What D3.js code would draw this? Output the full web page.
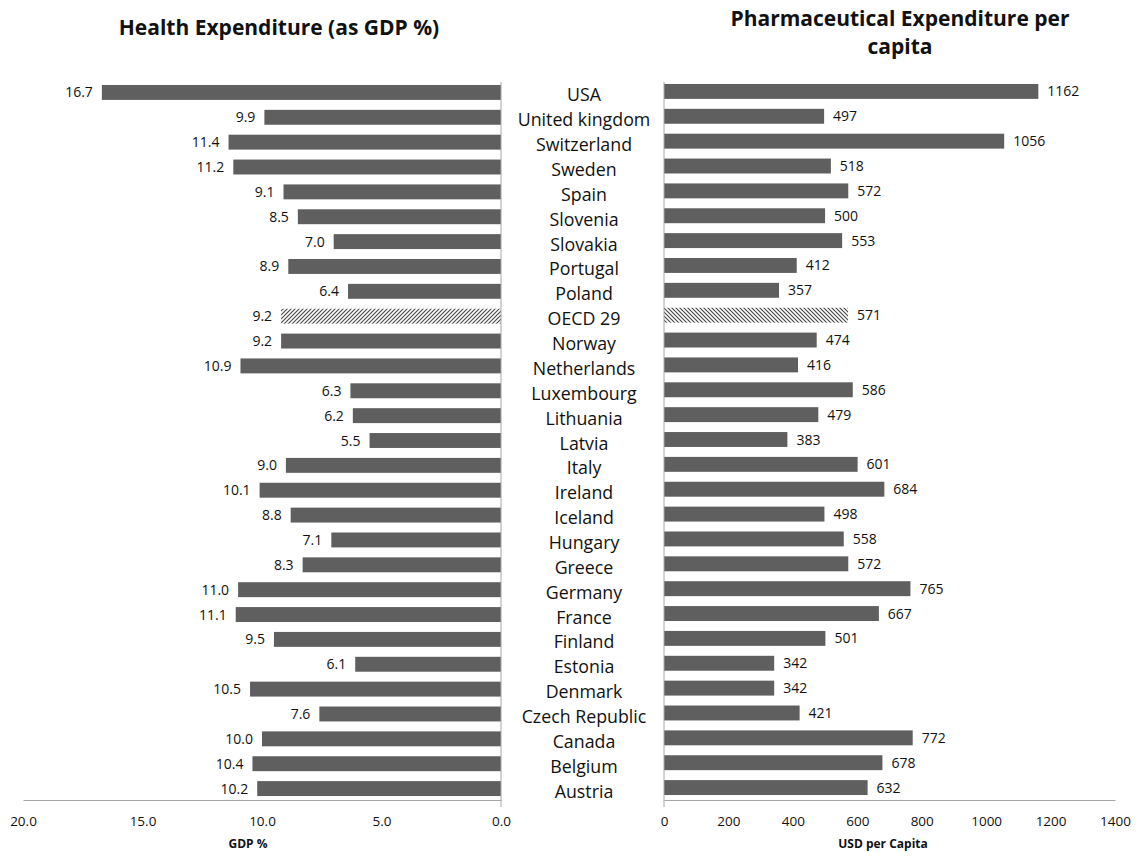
<!DOCTYPE html>
<html>
<head>
<meta charset="utf-8">
<script src="https://cdn.jsdelivr.net/npm/d3@7"></script>
<style>
  body { margin: 0; background: #fff; }
  text { font-family: "Open Sans", "Noto Sans", sans-serif; fill: #111; }
</style>
</head>
<body>
<svg id="chart" width="1139" height="856"></svg>
<script>
const countries = ["USA", "United kingdom", "Switzerland", "Sweden", "Spain", "Slovenia", "Slovakia",
  "Portugal", "Poland", "OECD 29", "Norway", "Netherlands", "Luxembourg", "Lithuania", "Latvia",
  "Italy", "Ireland", "Iceland", "Hungary", "Greece", "Germany", "France", "Finland", "Estonia",
  "Denmark", "Czech Republic", "Canada", "Belgium", "Austria"];
const healthGdp = [16.7, 9.9, 11.4, 11.2, 9.1, 8.5, 7.0, 8.9, 6.4, 9.2, 9.2, 10.9, 6.3, 6.2, 5.5,
  9.0, 10.1, 8.8, 7.1, 8.3, 11.0, 11.1, 9.5, 6.1, 10.5, 7.6, 10.0, 10.4, 10.2];
const pharmaUsd = [1162, 497, 1056, 518, 572, 500, 553, 412, 357, 571, 474, 416, 586, 479, 383,
  601, 684, 498, 558, 572, 765, 667, 501, 342, 342, 421, 772, 678, 632];
const gdpTicks = [20, 15, 10, 5, 0];
const usdTicks = [0, 200, 400, 600, 800, 1000, 1200, 1400];
const averageLabel = "OECD 29";

const svg = d3.select("#chart");
const barColor = "#5f5f5f";
const axisColor = "#a6a6a6";

// Hatch patterns for the OECD average bars
const defs = svg.append("defs");
function hatch(id, dir) {
  const p = defs.append("pattern").attr("id", id).attr("patternUnits", "userSpaceOnUse")
    .attr("width", 4).attr("height", 4);
  p.append("rect").attr("width", 4).attr("height", 4).attr("fill", "#fff");
  const d = dir > 0 ? "M-1,5 L5,-1 M-1,1 L1,-1 M3,5 L5,3" : "M-1,-1 L5,5 M3,-1 L5,1 M-1,3 L1,5";
  p.append("path").attr("d", d).attr("stroke", "#444").attr("stroke-width", 1.1);
}
hatch("hatchL", 1);
hatch("hatchR", -1);

const y = d3.scaleBand().domain(countries).range([80, 801]).paddingInner(0.4).paddingOuter(0.2);
const xL = d3.scaleLinear().domain([0, 20]).range([501, 23]);
const xR = d3.scaleLinear().domain([0, 1400]).range([664, 1115]);
const axisY = 800;

// Titles
svg.append("text").attr("x", 279).attr("y", 35).attr("text-anchor", "middle")
  .attr("font-size", 21).attr("font-weight", "bold").text("Health Expenditure (as GDP %)");
svg.append("text").attr("x", 900).attr("y", 26).attr("text-anchor", "middle")
  .attr("font-size", 21).attr("font-weight", "bold").text("Pharmaceutical Expenditure per");
svg.append("text").attr("x", 900).attr("y", 54).attr("text-anchor", "middle")
  .attr("font-size", 21).attr("font-weight", "bold").text("capita");

// Left panel bars
const rows = countries.map((c, i) => ({ c, g: healthGdp[i], u: pharmaUsd[i] }));
svg.append("g").selectAll("rect").data(rows).join("rect")
  .attr("x", d => xL(d.g)).attr("y", d => y(d.c))
  .attr("width", d => xL(0) - xL(d.g)).attr("height", y.bandwidth())
  .attr("fill", d => d.c === averageLabel ? "url(#hatchL)" : barColor);
svg.append("g").selectAll("text").data(rows).join("text")
  .attr("x", d => xL(d.g) - 9).attr("y", d => y(d.c) + y.bandwidth() / 2 + 5)
  .attr("text-anchor", "end").attr("font-size", 14).text(d => d.g.toFixed(1));

// Right panel bars
svg.append("g").selectAll("rect").data(rows).join("rect")
  .attr("x", xR(0)).attr("y", d => y(d.c) - 1)
  .attr("width", d => xR(d.u) - xR(0)).attr("height", y.bandwidth())
  .attr("fill", d => d.c === averageLabel ? "url(#hatchR)" : barColor);
svg.append("g").selectAll("text").data(rows).join("text")
  .attr("x", d => xR(d.u) + 9).attr("y", d => y(d.c) + y.bandwidth() / 2 + 4)
  .attr("font-size", 14).text(d => d.u);

// Country names in the centre
svg.append("g").selectAll("text").data(countries).join("text")
  .attr("x", 584).attr("y", d => y(d) + y.bandwidth() / 2 + 9)
  .attr("text-anchor", "middle").attr("font-size", 17.8).text(d => d);

// Axes
const axL = d3.axisBottom(xL).tickValues(gdpTicks).tickFormat(d3.format(".1f")).tickSize(0).tickPadding(16);
const gL = svg.append("g").attr("transform", `translate(0,${axisY})`).call(axL);
const axR = d3.axisBottom(xR).tickValues(usdTicks).tickFormat(d3.format("d")).tickSize(0).tickPadding(16);
const gR = svg.append("g").attr("transform", `translate(0,${axisY})`).call(axR);
[gL, gR].forEach(g => {
  g.select(".domain").attr("stroke", axisColor);
  g.selectAll(".tick text").attr("font-size", 13.5).attr("fill", "#111")
    .attr("font-family", "'Open Sans', sans-serif");
});
// Zero lines
svg.append("line").attr("x1", xL(0)).attr("x2", xL(0)).attr("y1", 82).attr("y2", axisY + 7)
  .attr("stroke", axisColor);
svg.append("line").attr("x1", xR(0)).attr("x2", xR(0)).attr("y1", 82).attr("y2", axisY + 7)
  .attr("stroke", axisColor);

// Axis titles
svg.append("text").attr("x", 248).attr("y", 848).attr("text-anchor", "middle")
  .attr("font-size", 12).attr("font-weight", "bold").text("GDP %");
svg.append("text").attr("x", 883).attr("y", 848).attr("text-anchor", "middle")
  .attr("font-size", 12).attr("font-weight", "bold").text("USD per Capita");
</script>
</body>
</html>
